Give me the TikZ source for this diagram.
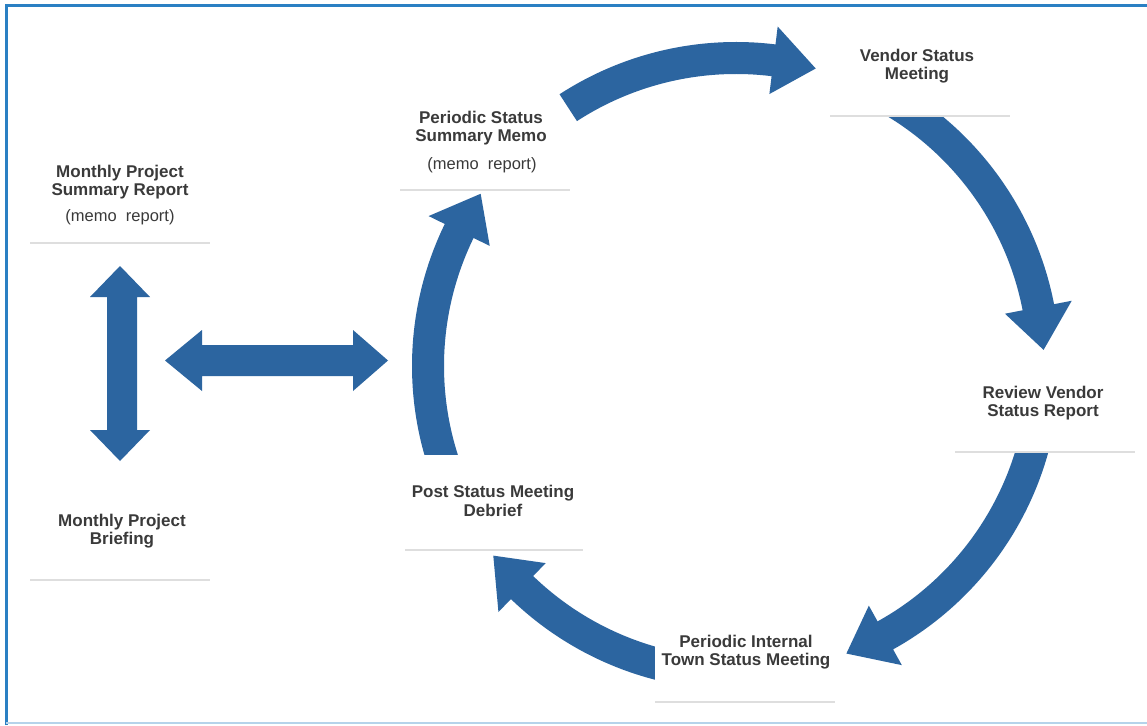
\documentclass[tikz,border=0pt]{standalone}
\usepackage{fontspec}
\setmainfont{Liberation Sans}
\usetikzlibrary{calc}
\definecolor{arrowc}{RGB}{44,101,160}
\definecolor{framec}{RGB}{42,128,195}
\definecolor{txtc}{RGB}{58,58,58}
\definecolor{linec}{RGB}{222,222,222}
\newcommand\carrow[3]{%
  \fill[arrowc] ($(C)+(#1:324pt)$) arc[start angle=#1, end angle=#2, radius=324pt]
    -- ($(C)+(#2:342pt)$) -- ($(C)+(#3:308pt)$) -- ($(C)+(#2:274pt)$)
    -- ($(C)+(#2:292pt)$) arc[start angle=#2, end angle=#1, radius=292pt] -- cycle;}
\tikzset{
  lbl/.style={align=center, text=txtc, font=\bfseries\fontsize{17}{18.5}\selectfont, inner sep=0pt},
  sub/.style={align=center, text=txtc, font=\fontsize{16.5}{18}\selectfont, inner sep=0pt},
  boxbg/.style={fill=white, draw=none},
  boxline/.style={draw=linec, line width=2pt},
}
\begin{document}
\begin{tikzpicture}[x=1pt,y=-1pt]
\useasboundingbox (0,0) rectangle (1147,725);
\fill[white] (0,0) rectangle (1147,725);
% frame
\draw[framec, line width=3pt] (6,725) -- (6,6) -- (1147,6);
\draw[framec!35, line width=2pt] (6,723) -- (1147,723);

\coordinate (C) at (736,366);
% cycle arrows
\carrow{200}{154}{146}
\carrow{123}{83}{75}
\carrow{62}{11}{3}
\carrow{-10}{-61}{-69}
\carrow{-100}{-134}{-142}

% straight double arrows
\fill[arrowc] (120,266) -- (150,297) -- (137,297) -- (137,430) -- (150,430) -- (120,461)
  -- (90,430) -- (107,430) -- (107,297) -- (90,297) -- cycle;
\fill[arrowc] (165,360.5) -- (202,330) -- (202,345) -- (353,345) -- (353,330) -- (388,360.5)
  -- (353,391) -- (353,376) -- (202,376) -- (202,391) -- cycle;

% text boxes (white, covering arrow tails)
\path[boxbg] (30,150) rectangle (210,243);
\draw[boxline] (30,243) -- (210,243);
\path[boxbg] (30,495) rectangle (210,580);
\draw[boxline] (30,580) -- (210,580);
\path[boxbg] (400,100) rectangle (552,190);
\draw[boxline] (400,190) -- (570,190);
\path[boxbg] (830,30) rectangle (1010,116);
\draw[boxline] (830,116) -- (1010,116);
\path[boxbg] (955,356) rectangle (1135,452);
\draw[boxline] (955,452) -- (1135,452);
\path[boxbg] (405,455) rectangle (583,550);
\draw[boxline] (405,550) -- (583,550);
\path[boxbg] (655,615) rectangle (835,702);
\draw[boxline] (655,702) -- (835,702);

% labels
\node[lbl] (msr) at (120,182) {Monthly Project\\Summary Report};
\node[sub] (msrm) at (120,217) {(memo\ \ report)};
\node[lbl] (mpb) at (122,531) {Monthly Project\\Briefing};
\node[lbl] (psm) at (481,128) {Periodic Status\\Summary Memo};
\node[sub] (psmm) at (482,165) {(memo\ \ report)};
\node[lbl] (vsm) at (917,66) {Vendor Status\\Meeting};
\node[lbl] (rvs) at (1043,403) {Review Vendor\\Status Report};
\node[lbl] (psd) at (493,501) {Post Status Meeting\\Debrief};
\node[lbl] (pit) at (746,652) {Periodic Internal\\Town Status Meeting};
\end{tikzpicture}
\end{document}
